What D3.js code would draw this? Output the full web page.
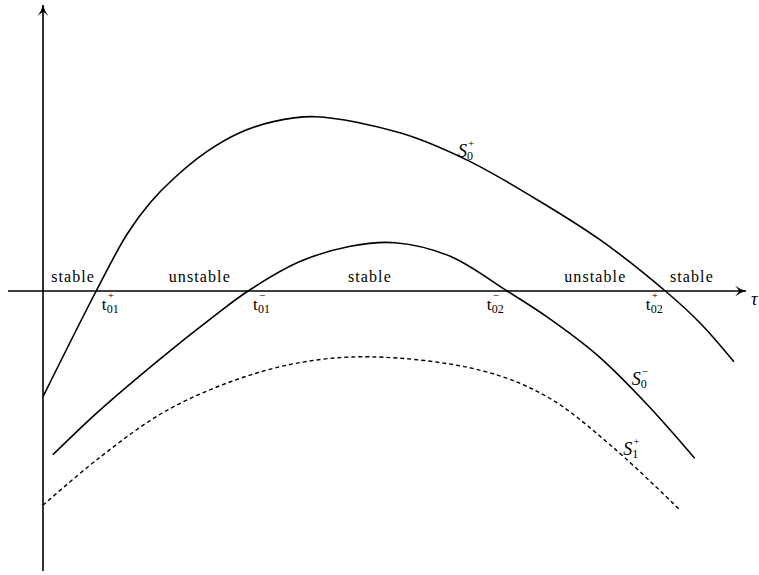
<!DOCTYPE html>
<html>
<head>
<meta charset="utf-8">
<script src="https://cdn.jsdelivr.net/npm/d3@7"></script>
<style>
  body { margin: 0; background: #fff; }
  text { font-family: "Liberation Serif", "Times New Roman", Times, serif; }
</style>
</head>
<body>
<div id="chart"></div>
<script>
var width = 759, height = 575;
var serif = "'Liberation Serif', 'Times New Roman', serif";

// curve values (tau, value)
var s0plus = [
    [0, -1.51], [0.76, 0], [1.20, 0.81], [1.53, 1.26], [1.86, 1.60], [2.34, 1.99],
    [2.81, 2.26], [3.29, 2.42], [3.89, 2.49], [5.10, 2.26], [6.06, 1.87], [7.00, 1.34],
    [7.96, 0.73], [8.89, 0], [9.39, -0.46], [9.87, -1.01]
];
var s0minus = [
    [0.14, -2.34], [0.77, -1.74], [1.71, -0.94], [2.43, -0.37], [2.93, 0], [3.67, 0.42],
    [4.39, 0.64], [5.03, 0.69], [5.81, 0.50], [6.63, 0], [7.20, -0.37], [7.91, -0.91],
    [8.60, -1.59], [9.31, -2.39]
];
var s1plus = [
    [0, -3.06], [0.77, -2.41], [1.71, -1.74], [2.67, -1.30], [3.63, -1.03], [4.67, -0.94],
    [6.24, -1.13], [7.20, -1.51], [8.14, -2.23], [9.10, -3.13]
];

// region labels along the tau axis
var regionNames = ["stable", "unstable", "stable", "unstable", "stable"];
var regionPos = [0.43, 2.24, 4.67, 7.89, 9.27];

// crossing labels t_01^+ ...
var crossSub = ["01", "01", "02", "02"];
var crossSup = ["+", "\u2212", "\u2212", "+"];
var crossPos = [0.84, 3.00, 6.34, 8.61];

// curve name labels
var curveSub = ["0", "0", "1"];
var curveSup = ["+", "\u2212", "+"];
var curveLabelPos = [[5.93, 1.91], [8.41, -1.34], [8.29, -2.34]];

var x = d3.scaleLinear().domain([0, 10]).range([43, 743]);
var y = d3.scaleLinear().domain([-4, 4]).range([571, 11]);

var svg = d3.select("#chart").append("svg")
    .attr("width", width)
    .attr("height", height)
    .style("display", "block");

// arrowhead (barbed, latex style)
svg.append("defs").append("marker")
    .attr("id", "arrow")
    .attr("viewBox", "-12 -6 14 12")
    .attr("refX", 0)
    .attr("refY", 0)
    .attr("markerUnits", "userSpaceOnUse")
    .attr("markerWidth", 14)
    .attr("markerHeight", 12)
    .attr("orient", "auto")
    .append("path")
    .attr("d", "M0,0 Q-6,-1.5 -11,-5.5 Q-7,-1 -7,0 Q-7,1 -11,5.5 Q-6,1.5 0,0 Z")
    .attr("fill", "#000");

// axes
svg.append("line")
    .attr("x1", x(0)).attr("y1", y.range()[0])
    .attr("x2", x(0)).attr("y2", 5)
    .attr("stroke", "#000").attr("stroke-width", 1.6)
    .attr("marker-end", "url(#arrow)");

svg.append("line")
    .attr("x1", 8).attr("y1", y(0))
    .attr("x2", 746).attr("y2", y(0))
    .attr("stroke", "#000").attr("stroke-width", 1.6)
    .attr("marker-end", "url(#arrow)");

svg.append("text")
    .attr("x", 751).attr("y", y(0) + 14)
    .attr("font-family", serif)
    .style("font-style", "italic")
    .style("font-size", "18px")
    .text("\u03c4");

var line = d3.line().curve(d3.curveCatmullRom.alpha(0.5))
    .x(function(d) { return x(d[0]); })
    .y(function(d) { return y(d[1]); });

svg.append("path").datum(s0plus)
    .attr("d", line).attr("fill", "none")
    .attr("stroke", "#000").attr("stroke-width", 1.6);

svg.append("path").datum(s0minus)
    .attr("d", line).attr("fill", "none")
    .attr("stroke", "#000").attr("stroke-width", 1.6);

svg.append("path").datum(s1plus)
    .attr("d", line).attr("fill", "none")
    .attr("stroke", "#000").attr("stroke-width", 1.4)
    .attr("stroke-dasharray", "4,3");

// region labels
svg.selectAll(".region")
    .data(regionNames)
    .enter().append("text")
    .attr("class", "region")
    .attr("x", function(d, i) { return x(regionPos[i]); })
    .attr("y", y(0) - 9)
    .attr("text-anchor", "middle")
    .attr("font-family", serif)
    .style("font-size", "16px")
    .style("letter-spacing", "1.1px")
    .text(function(d) { return d; });

// crossing labels: t, subscript and superscript as separate texts
crossPos.forEach(function(p, i) {
    var px = x(p), py = y(0) + 19;
    svg.append("text").attr("x", px).attr("y", py)
        .attr("font-family", serif).style("font-size", "17px").text("t");
    svg.append("text").attr("x", px + 5).attr("y", py + 3)
        .attr("font-family", serif).style("font-size", "12px").text(crossSub[i]);
    svg.append("text").attr("x", px + 6).attr("y", py - 11)
        .attr("font-family", serif).style("font-size", "11px").text(crossSup[i]);
});

// curve labels
curveLabelPos.forEach(function(p, i) {
    var px = x(p[0]), py = y(p[1]);
    svg.append("text").attr("x", px).attr("y", py)
        .attr("font-family", serif).style("font-style", "italic")
        .style("font-size", "18px").text("S");
    svg.append("text").attr("x", px + 9).attr("y", py + 3)
        .attr("font-family", serif).style("font-size", "12px").text(curveSub[i]);
    svg.append("text").attr("x", px + 10).attr("y", py - 10)
        .attr("font-family", serif).style("font-size", "11px").text(curveSup[i]);
});
</script>
</body>
</html>
